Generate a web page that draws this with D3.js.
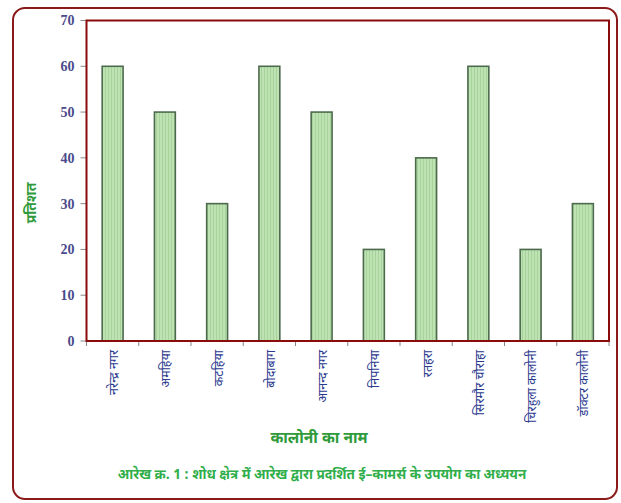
<!DOCTYPE html>
<html><head><meta charset="utf-8">
<script src="https://cdn.jsdelivr.net/npm/d3@7"></script>
<style>
body{margin:0;background:#fff;}
svg{display:block;}
</style></head>
<body>
<svg id="chart" width="621" height="503"></svg>
<script>
const categories = ["नरेन्द्र नगर","अमहिया","कटहिया","बोदाबाग","आनन्द नगर","निपनिया","रतहरा","सिरमौर चौराहा","चिरहुला कालोनी","डॉक्टर कालोनी"];
const values = [60,50,30,60,50,20,40,60,20,30];
const yTicks = [0,10,20,30,40,50,60,70];
const yTitle = "प्रतिशत";
const xTitle = "कालोनी का नाम";
const caption = "आरेख क्र. 1 : शोध क्षेत्र में आरेख द्वारा प्रदर्शित ई–कामर्स के उपयोग का अध्ययन";

const svg = d3.select("#chart");
const deva = "'Noto Sans Devanagari','Noto Sans','Lohit Devanagari',sans-serif";

// outer border
svg.append("rect").attr("x",13).attr("y",8).attr("width",604).attr("height",491)
  .attr("rx",12).attr("fill","#fff").attr("stroke","#8b1a1a").attr("stroke-width",2);

const L=86.5, R=609, T=20.5, B=341;
const x = d3.scaleBand().domain(categories).range([L,R]).paddingInner(0.6).paddingOuter(0.3);
const xb = d3.scaleBand().domain(categories).range([L,R]);
const y = d3.scaleLinear().domain([0,70]).range([B,T]);

// stripe pattern
const defs = svg.append("defs");
const pat = defs.append("pattern").attr("id","stripes").attr("patternUnits","userSpaceOnUse")
  .attr("width",3).attr("height",10);
pat.append("rect").attr("width",3).attr("height",10).attr("fill","#bfe2b5");
pat.append("rect").attr("width",1).attr("height",10).attr("fill","#a6d39a");

// y ticks (gray)
svg.append("g").selectAll("line").data(yTicks).join("line")
  .attr("x1",L-6).attr("x2",L).attr("y1",d=>y(d)).attr("y2",d=>y(d))
  .attr("stroke","#888").attr("stroke-width",1);
svg.append("g").selectAll("text").data(yTicks).join("text")
  .attr("x",L-12).attr("y",d=>y(d)).attr("dy","0.35em").attr("text-anchor","end")
  .attr("font-family","'Liberation Serif','Times New Roman',serif").attr("font-weight","bold")
  .attr("font-size",14).attr("fill","#4a4a8c").text(d=>d);

// x ticks at band boundaries
const bounds = categories.map(c=>xb(c)).concat([R]);
svg.append("g").selectAll("line").data(bounds).join("line")
  .attr("x1",d=>d).attr("x2",d=>d).attr("y1",B).attr("y2",B+5)
  .attr("stroke","#888").attr("stroke-width",1);

// bars
svg.append("g").selectAll("rect").data(values).join("rect")
  .attr("x",(d,i)=>x(categories[i])).attr("width",x.bandwidth())
  .attr("y",d=>y(d)).attr("height",d=>B-y(d))
  .attr("fill","url(#stripes)").attr("stroke","#4d6a4d").attr("stroke-width",1.6);

// plot frame
svg.append("rect").attr("x",L).attr("y",T).attr("width",R-L).attr("height",B-T)
  .attr("fill","none").attr("stroke","#8b0a0a").attr("stroke-width",2);

// x labels
svg.append("g").selectAll("text").data(categories).join("text")
  .attr("transform",d=>`translate(${xb(d)+xb.bandwidth()/2+1},${B+9}) rotate(-90)`)
  .attr("text-anchor","end").attr("dy","0.35em")
  .attr("font-family",deva).attr("font-size",12.5).attr("fill","#2b3a8f").text(d=>d);

// titles
svg.append("text").attr("transform","translate(31,203) rotate(-90)")
  .attr("text-anchor","middle").attr("dy","0.35em")
  .attr("font-family",deva).attr("font-weight","bold").attr("font-size",14)
  .attr("fill","#2e9a3a").text(yTitle);
svg.append("text").attr("x",319).attr("y",438).attr("text-anchor","middle").attr("dy","0.35em")
  .attr("font-family",deva).attr("font-weight","bold").attr("font-size",15.5)
  .attr("fill","#2e9a3a").text(xTitle);
svg.append("text").attr("x",322).attr("y",474).attr("text-anchor","middle").attr("dy","0.35em")
  .attr("font-family",deva).attr("font-weight","bold").attr("font-size",13.5)
  .attr("fill","#2fae4a").text(caption);
</script>
</body></html>
